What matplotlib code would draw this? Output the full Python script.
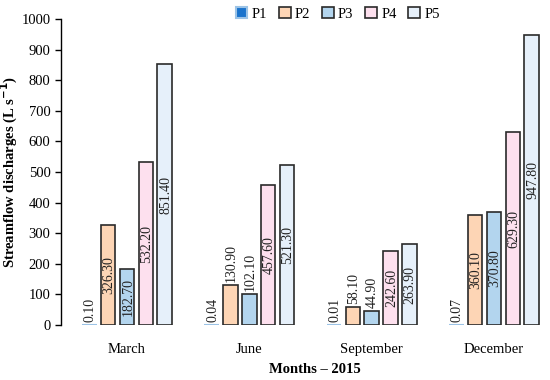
import matplotlib.pyplot as plt
import numpy as np

months = ['March', 'June', 'September', 'December']
series = ['P1', 'P2', 'P3', 'P4', 'P5']
P1 = [0.10, 0.04, 0.01, 0.07]
P2 = [326.30, 130.90, 58.10, 360.10]
P3 = [182.70, 102.10, 44.90, 370.80]
P4 = [532.20, 457.60, 242.60, 629.30]
P5 = [851.40, 521.30, 263.90, 947.80]
colors = ['#1a73cc', '#fdd5b5', '#b3d5ee', '#fde0ee', '#e6f0fa']

plt.rcParams['font.family'] = ['Liberation Serif', 'DejaVu Serif']

fig = plt.figure(figsize=(5.5, 3.8), dpi=100)
ax = fig.add_axes([61 / 550, 55 / 380, 488 / 550, 306 / 380])

x = np.arange(len(months))
pitch = 0.154
width = 0.119
lab_len = 125  # approx length of a rotated label in data units

for i, (name, vals) in enumerate(zip(series, [P1, P2, P3, P4, P5])):
    pos = x + (i - 2) * pitch
    if name == 'P1':
        ax.bar(pos, vals, width, color=colors[i], edgecolor='#9cc3e6', linewidth=1.5, label=name)
    else:
        ax.bar(pos, vals, width, color=colors[i], edgecolor='#2a2a2a', linewidth=1.2, label=name)
    for p, v in zip(pos, vals):
        txt = '%.2f' % v
        if v > lab_len + 30:
            yc = max(v / 2, lab_len / 2 + 8)
            ax.text(p + 0.008, yc, txt, rotation=90, ha='center', va='center', fontsize=10, color='#222222')
        else:
            ax.text(p + 0.008, v + 10, txt, rotation=90, ha='center', va='bottom', fontsize=10, color='#222222')

ax.set_xlim(-0.54, 3.45)
ax.set_ylim(0, 1000)
ax.set_yticks(np.arange(0, 1001, 100))
ax.set_xticks(x)
ax.set_xticklabels(months, fontsize=10.5)
ax.tick_params(axis='x', length=0, pad=13)
ax.tick_params(axis='y', length=4, width=1, labelsize=10.5, direction='out')
for s in ['top', 'right', 'bottom']:
    ax.spines[s].set_visible(False)
ax.spines['left'].set_linewidth(1)

ax.set_ylabel('Streamflow discharges (L s$^{\\mathbf{-1}}$)', fontsize=10.5, fontweight='bold')
ax.yaxis.set_label_coords(-0.084, 0.5)
ax.set_xlabel('Months – 2015', fontsize=10.5, fontweight='bold')
ax.xaxis.set_label_coords(0.52, -0.125)

fig.legend(loc='center', bbox_to_anchor=(0.614, 0.963), ncol=5, frameon=False,
           handlelength=0.8, handleheight=0.8, handletextpad=0.3, columnspacing=0.8,
           fontsize=10.5)

fig.savefig('out.png', dpi=100)
